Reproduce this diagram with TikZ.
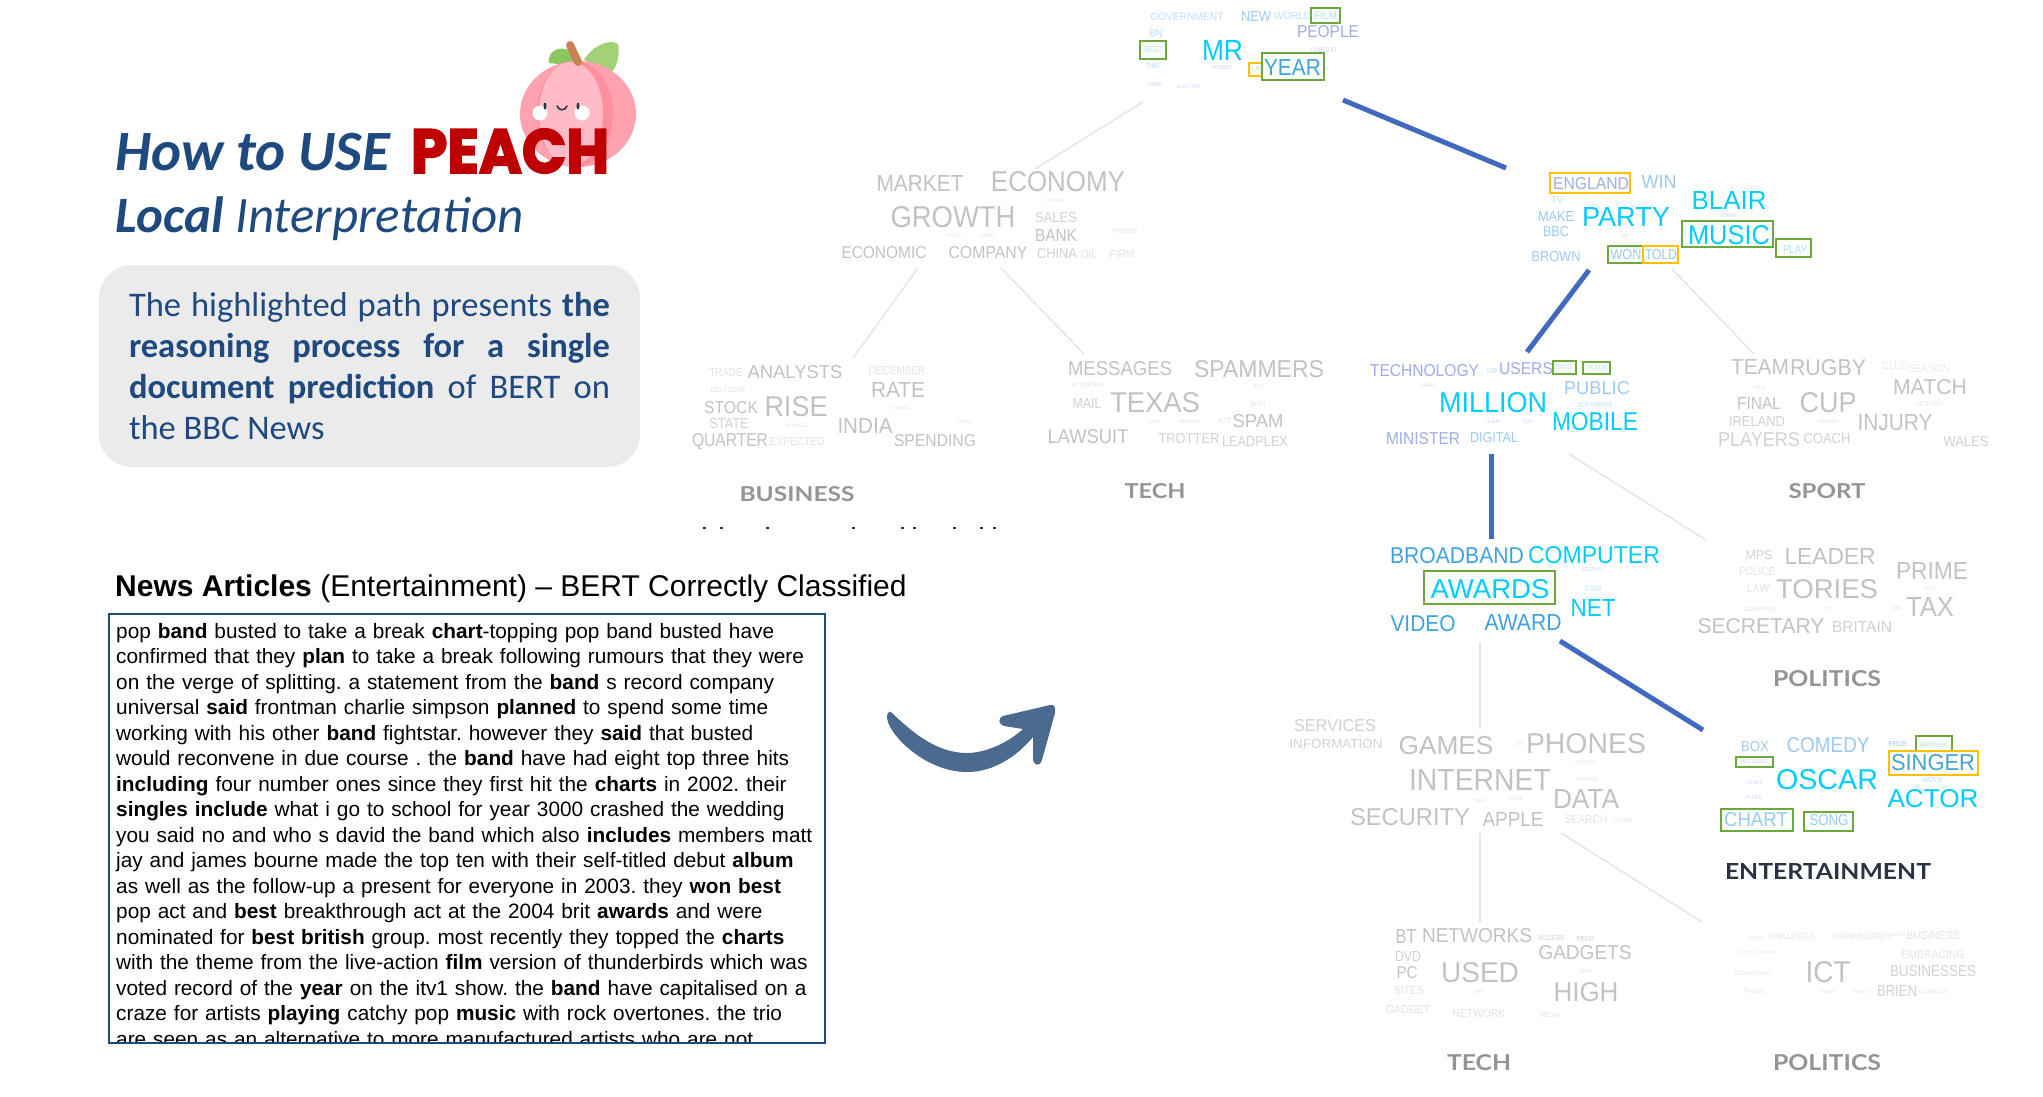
\documentclass[tikz,border=0pt]{standalone}
\usepackage{graphicx}
\usepackage{fontspec}
\setmainfont{Liberation Sans}
\newfontfamily\titlefont{Carlito}
\newfontfamily\peachfont{Poppins}[BoldFeatures={FakeBold=3}]
\newfontfamily\catfont{Lato}
\usetikzlibrary{positioning}
\frenchspacing

\definecolor{hotc}{HTML}{00CCFF}
\definecolor{deepc}{HTML}{3FA2E0}
\definecolor{duskc}{HTML}{3FA5D5}
\definecolor{softc}{HTML}{9CC9F3}
\definecolor{palec}{HTML}{BBE0FA}
\definecolor{lavc}{HTML}{A0ACE6}
\definecolor{mistc}{HTML}{CDD3F7}
\definecolor{navyc}{HTML}{1F4A7F}
\definecolor{linkc}{HTML}{4169BF}
\definecolor{swooshc}{HTML}{4A6A90}
\definecolor{greenc}{HTML}{6DA83F}
\definecolor{amberc}{HTML}{FFC000}
\definecolor{inkc}{HTML}{2A3342}
\definecolor{peachc}{HTML}{FFA2B0}
\definecolor{creasec}{HTML}{FF8E9E}
\definecolor{flushc}{HTML}{FFBCC6}
\definecolor{stemc}{HTML}{C98352}
\definecolor{leafc}{HTML}{8CC660}
\definecolor{leafbc}{HTML}{A3D178}
\newcommand{\wfit}[3]{\resizebox{#1pt}{#2pt}{#3}}

\begin{document}
\begin{tikzpicture}
	[x=1pt, y=-1pt, every node/.style={inner sep=0pt},
	hot/.style={text=hotc}, deep/.style={text=deepc}, dusk/.style={text=duskc}, soft/.style={text=softc},
	pale/.style={text=palec}, lav/.style={text=lavc}, mist/.style={text=mistc},
	gra/.style={text=black!24}, grb/.style={text=black!18}, grc/.style={text=black!11}, grd/.style={text=black!8},
	catg/.style={font=\catfont\bfseries, text=black!42},
	gbox/.style={draw=greenc, line width=2.4pt, fill=green!2},
	ybox/.style={draw=amberc, line width=2.4pt, fill=yellow!3},
	hotlink/.style={draw=linkc, line width=5pt},
	dimlink/.style={draw=black!10, line width=1.5pt},
	headline/.style={text=navyc}]
	\useasboundingbox (0,0) rectangle (2043,1096);

	% peach
	\fill[leafc] (549,63) .. controls (547,48) and (565,44) .. (574,54) -- (576,66) -- cycle;
	\fill[leafbc] (584,60) .. controls (592,46) and (610,38) .. (618,44) .. controls (620,54) and (618,64) .. (612,72) -- cycle;
	\fill[peachc] (578,114) ellipse (58 and 53);
	\fill[creasec] (575,114) ellipse (38 and 53);
	\fill[flushc] (571,114) ellipse (32 and 52);
	\draw[stemc, line width=8pt, line cap=round] (570,45) -- (578,62);
	\fill[white] (540,113) circle (7.5) (582,113) circle (7.5);
	\fill[inkc] (545,106) ellipse (1.5 and 3.5) (578,106) ellipse (1.5 and 3.5);
	\draw[inkc, line width=1.6pt, line cap=round] (557,106) .. controls (559,111) and (565,111) .. (567,106);

	\node (howto) [headline, anchor=base west, font=\titlefont\fontsize{57}{60}\selectfont\bfseries\itshape] at (115,170) {How to USE};
	\node (peachword) [text=red!75!black, font=\peachfont\bfseries] at (510,151) {\wfit{198}{44}{PEACH}};
	\node (local) [headline, anchor=base west, font=\titlefont\fontsize{51}{53}\selectfont\itshape] at (115,232) {\textbf{Local} Interpretation};
	\node (note) [fill=black!8, rounded corners=33pt, minimum height=202pt, inner xsep=30pt, text width=481pt, align=justify, text=navyc, font=\titlefont\fontsize{34.5}{41}\selectfont] at (369.5,366)
		{The highlighted path presents \textbf{the}\linebreak \textbf{reasoning process for a single}\linebreak \textbf{document prediction} of BERT on\linebreak the BBC News};

	\node (newshead) [anchor=base west, font=\fontsize{30}{31}\selectfont] at (115,596) {\textbf{News Articles} (Entertainment) -- BERT Correctly Classified};
	\begin{scope}
	\clip (109,614) rectangle (825,1043);
	\node (article) [anchor=north west, text width=705pt, align=left, font=\fontsize{20.8}{25.5}\selectfont] at (116,623)
		{pop \textbf{band} busted to take a break \textbf{chart}-topping pop band busted have\\
		confirmed that they \textbf{plan} to take a break following rumours that they were\\
		on the verge of splitting. a statement from the \textbf{band} s record company\\
		universal \textbf{said} frontman charlie simpson \textbf{planned} to spend some time\\
		working with his other \textbf{band} fightstar. however they \textbf{said} that busted\\
		would reconvene in due course . the \textbf{band} have had eight top three hits\\
		\textbf{including} four number ones since they first hit the \textbf{charts} in 2002. their\\
		\textbf{singles include} what i go to school for year 3000 crashed the wedding\\
		you said no and who s david the band which also \textbf{includes} members matt\\
		jay and james bourne made the top ten with their self-titled debut \textbf{album}\\
		as well as the follow-up a present for everyone in 2003. they \textbf{won best}\\
		pop act and \textbf{best} breakthrough act at the 2004 brit \textbf{awards} and were\\
		nominated for \textbf{best british} group. most recently they topped the \textbf{charts}\\
		with the theme from the live-action \textbf{film} version of thunderbirds which was\\
		voted record of the \textbf{year} on the itv1 show. the \textbf{band} have capitalised on a\\
		craze for artists \textbf{playing} catchy pop \textbf{music} with rock overtones. the trio\\
		are seen as an alternative to more manufactured artists who are not};
	\end{scope}
	\node (articlebox) [draw=navyc, line width=2pt, minimum width=716pt, minimum height=429pt] at (467,828.5) {};

	% arrow
	\fill[swooshc] (888,713) .. controls (880,725) and (920,772) .. (967,772)
		.. controls (995,772) and (1018,755) .. (1033,737)
		-- (1033,758) .. controls (1033,765) and (1039,768) .. (1042,760)
		-- (1055,713) .. controls (1056,707) and (1054,704) .. (1050,705)
		-- (1003,716) .. controls (998,718) and (998,724) .. (1004,726)
		-- (1023,729) .. controls (1008,743) and (985,753) .. (967,753)
		.. controls (935,753) and (910,730) .. (892,713) .. controls (891,711) and (889,711) .. (888,713) -- cycle;

	% remains of a cut off line
	\foreach \tx in {704,721,767,853,902,914,954,981,994}
		\fill[black!80] (\tx-1.5,526.5) rectangle (\tx+1.5,528.5);

	% links
	\coordinate (rootr) at (1343,100);
	\coordinate (polr) at (1506,168);
	\coordinate (poll) at (1589,270);
	\coordinate (secl) at (1527,352);
	\coordinate (secb) at (1491,454);
	\coordinate (awt) at (1491,539);
	\coordinate (awr) at (1560,641);
	\coordinate (entt) at (1703,730);
	\draw[hotlink] (rootr) -- (polr);
	\draw[hotlink] (poll) -- (secl);
	\draw[hotlink] (secb) -- (awt);
	\draw[hotlink] (awr) -- (entt);
	\coordinate (rootl) at (1143,102);
	\coordinate (ecot) at (1035,169);
	\coordinate (ecol) at (918,268);
	\coordinate (bizt) at (853,358);
	\coordinate (ecor) at (1001,268);
	\coordinate (techt) at (1084,354);
	\coordinate (polb) at (1672,269);
	\coordinate (spot) at (1754,354);
	\coordinate (secr) at (1569,454);
	\coordinate (govt) at (1706,540);
	\coordinate (awb) at (1480,642);
	\coordinate (gamt) at (1480,729);
	\coordinate (gamb) at (1480,833);
	\coordinate (gadt) at (1480,922);
	\coordinate (gamr) at (1561,833);
	\coordinate (ictt) at (1702,922);
	\draw[dimlink] (rootl) -- (ecot);
	\draw[dimlink] (ecol) -- (bizt);
	\draw[dimlink] (ecor) -- (techt);
	\draw[dimlink] (polb) -- (spot);
	\draw[dimlink] (secr) -- (govt);
	\draw[dimlink] (awb) -- (gamt);
	\draw[dimlink] (gamb) -- (gadt);
	\draw[dimlink] (gamr) -- (ictt);

	% boxes go under the words
	\node (filmbox) [gbox, minimum width=29pt, minimum height=15pt] at (1325.5,15.5) {};
	\node (bestbox) [gbox, minimum width=26pt, minimum height=18pt] at (1153,50) {};
	\node (ukbox) [ybox, minimum width=14pt, minimum height=13pt] at (1256,69.5) {};
	\node (yearbox) [gbox, minimum width=62pt, minimum height=27pt] at (1293,66.5) {};
	\node (englandbox) [ybox, minimum width=80pt, minimum height=20pt] at (1590,183) {};
	\node (musicbox) [gbox, minimum width=91pt, minimum height=26pt] at (1727.5,234) {};
	\node (playbox) [gbox, minimum width=35pt, minimum height=18pt] at (1793.5,248) {};
	\node (wonbox) [gbox, minimum width=35pt, minimum height=17pt] at (1625.5,254.5) {};
	\node (toldbox) [ybox, minimum width=35pt, minimum height=17pt] at (1660.5,254.5) {};
	\node (saysbox) [gbox, minimum width=23pt, minimum height=13pt] at (1564.5,367.5) {};
	\node (plansbox) [gbox, minimum width=27pt, minimum height=12pt] at (1596.5,368) {};
	\node (awardsbox) [gbox, minimum width=131pt, minimum height=33pt] at (1489.5,587.5) {};
	\node (britishbox) [gbox, minimum width=36pt, minimum height=22pt] at (1934,747) {};
	\node (includingbox) [gbox, minimum width=37pt, minimum height=10pt] at (1754.5,762) {};
	\node (singerbox) [ybox, minimum width=89pt, minimum height=24pt] at (1933.5,763) {};
	\node (chartbox) [gbox, minimum width=72pt, minimum height=22pt] at (1757,820) {};
	\node (songbox) [gbox, minimum width=49pt, minimum height=19pt] at (1828.5,821.5) {};

	% top cloud
	\node (tgovernment) [pale] at (1187,16.5) {\wfit{73}{7.5}{GOVERNMENT}};
	\node (tnew) [soft] at (1256,16) {\wfit{30}{10}{NEW}};
	\node (tworld) [pale] at (1292.5,15.7) {\wfit{37}{7.5}{WORLD}};
	\node (tfilm) [pale] at (1325.5,15.7) {\wfit{23}{7.5}{FILM}};
	\node (tpeople) [lav] at (1328,32) {\wfit{62}{12}{PEOPLE}};
	\node (tbn) [pale] at (1156,33) {\wfit{14}{8}{BN}};
	\node (tbest) [pale] at (1153.5,50) {\wfit{17}{6}{BEST}};
	\node (tmr) [hot] at (1222.5,50) {\wfit{41}{20}{MR}};
	\node (tlabour) [mist] at (1324,50.5) {\wfit{26}{5}{LABOUR}};
	\node (tyear) [dusk] at (1292.5,67) {\wfit{57}{16}{YEAR}};
	\node (tuk) [pale] at (1257,69.5) {\wfit{10}{5}{UK}};
	\node (ttime) [pale] at (1153.5,65.5) {\wfit{15}{5}{TIME}};
	\node (tnumber) [mist] at (1222,68) {\wfit{20}{4}{NUMBER}};
	\node (tgame) [mist] at (1155,85) {\wfit{14}{4}{GAME}};
	\node (telection) [mist] at (1188.5,86.5) {\wfit{23}{3.5}{ELECTION}};

	% economy cloud
	\node (emarket) [gra] at (920,183) {\wfit{87}{16}{MARKET}};
	\node (eeconomy) [gra] at (1058,182) {\wfit{134}{20}{ECONOMY}};
	\node (edollar) [grc] at (1055,201) {\wfit{19}{4}{DOLLAR}};
	\node (egrowth) [gra] at (953,217) {\wfit{125}{21}{GROWTH}};
	\node (esales) [grb] at (1056,218) {\wfit{42}{10}{SALES}};
	\node (ebank) [gra] at (1056,235) {\wfit{42}{12}{BANK}};
	\node (eprices) [grc] at (1125,231) {\wfit{25}{5}{PRICES}};
	\node (erates) [grc] at (954,236) {\wfit{15}{3.5}{RATES}};
	\node (eyukos) [grc] at (987,236) {\wfit{17}{3.5}{YUKOS}};
	\node (eeconomic) [gra] at (884,253) {\wfit{85}{12}{ECONOMIC}};
	\node (ecompany) [gra] at (988,253) {\wfit{79}{12}{COMPANY}};
	\node (echina) [grb] at (1057,254) {\wfit{40}{10}{CHINA}};
	\node (eoil) [grc] at (1089,255) {\wfit{16}{8}{OIL}};
	\node (efirm) [grc] at (1122,254) {\wfit{25}{8}{FIRM}};

	% business cloud
	\node (btrade) [grc] at (726,372) {\wfit{33}{8}{TRADE}};
	\node (banalysts) [gra] at (795,372.5) {\wfit{95}{13}{ANALYSTS}};
	\node (bdecember) [grc] at (897,371) {\wfit{57}{8}{DECEMBER}};
	\node (brate) [gra] at (898,390) {\wfit{54}{15}{RATE}};
	\node (bdeutsche) [grc] at (728,390) {\wfit{35}{5}{DEUTSCHE}};
	\node (bstock) [gra] at (731,408) {\wfit{54}{12}{STOCK}};
	\node (brise) [gra] at (796,407) {\wfit{63}{20}{RISE}};
	\node (bfigures) [grc] at (900,408) {\wfit{20}{3.5}{FIGURES}};
	\node (bstate) [grb] at (729,424) {\wfit{39}{10}{STATE}};
	\node (bbusiness) [grc] at (797,426) {\wfit{24}{3.5}{BUSINESS}};
	\node (bindia) [gra] at (865,426) {\wfit{55}{15}{INDIA}};
	\node (bfirms) [grc] at (965,422) {\wfit{15}{3.5}{FIRMS}};
	\node (bquarter) [gra] at (730,442) {\wfit{76}{13}{QUARTER}};
	\node (bexpected) [grc] at (797,442) {\wfit{55}{8}{EXPECTED}};
	\node (bspending) [gra] at (935,441) {\wfit{82}{12}{SPENDING}};
	\node (bizlabel) [catg] at (797,494) {\wfit{115}{15}{BUSINESS}};

	% spam cloud
	\node (smessages) [gra] at (1120,369) {\wfit{104}{14}{MESSAGES}};
	\node (sspammers) [gra] at (1259,369) {\wfit{130}{17}{SPAMMERS}};
	\node (sattorney) [grc] at (1088,385) {\wfit{34}{5}{ATTORNEY}};
	\node (sftc) [grc] at (1259,387) {\wfit{10}{4}{FTC}};
	\node (smail) [grb] at (1087,403) {\wfit{29}{10}{MAIL}};
	\node (stexas) [gra] at (1155,403) {\wfit{90}{20}{TEXAS}};
	\node (ssent) [grc] at (1258,404.5) {\wfit{17}{5}{SENT}};
	\node (smen) [grc] at (1155,421.5) {\wfit{11}{3.5}{MEN}};
	\node (ssending) [grc] at (1190,421.5) {\wfit{22}{3.5}{SENDING}};
	\node (sact) [grc] at (1224,421.5) {\wfit{13}{5}{ACT}};
	\node (sspam) [gra] at (1258,421.5) {\wfit{51}{13}{SPAM}};
	\node (slawsuit) [gra] at (1088,437) {\wfit{81}{14}{LAWSUIT}};
	\node (strotter) [grb] at (1189,439) {\wfit{61}{10}{TROTTER}};
	\node (sleadplex) [grb] at (1255,441) {\wfit{66}{10}{LEADPLEX}};
	\node (techlabel) [catg] at (1155,491) {\wfit{61}{15}{TECH}};

	% party cloud
	\node (pengland) [lav] at (1591,184) {\wfit{76}{12}{ENGLAND}};
	\node (pwin) [soft] at (1659,182) {\wfit{35}{13}{WIN}};
	\node (ptv) [pale] at (1557,200) {\wfit{12}{7}{TV}};
	\node (pmake) [soft] at (1556,216) {\wfit{36}{10}{MAKE}};
	\node (pparty) [hot] at (1626,217) {\wfit{88}{19}{PARTY}};
	\node (pblair) [hot] at (1729,200) {\wfit{75}{18}{BLAIR}};
	\node (pyears) [mist] at (1728,216) {\wfit{16}{4}{YEARS}};
	\node (pbbc) [soft] at (1556,232) {\wfit{26}{10}{BBC}};
	\node (pset) [mist] at (1626,236) {\wfit{9}{3}{SET}};
	\node (pmusic) [hot] at (1729,235) {\wfit{82}{19}{MUSIC}};
	\node (pplay) [pale] at (1795,249) {\wfit{24}{8}{PLAY}};
	\node (pbrown) [soft] at (1556,257) {\wfit{49}{10}{BROWN}};
	\node (pwon) [soft] at (1626,255) {\wfit{31}{10}{WON}};
	\node (ptold) [soft] at (1661,255) {\wfit{32}{10}{TOLD}};

	% users cloud
	\node (utechnology) [lav] at (1424.5,371) {\wfit{109}{12}{TECHNOLOGY}};
	\node (uuse) [pale] at (1492,371.5) {\wfit{11}{5}{USE}};
	\node (uusers) [lav] at (1526,369) {\wfit{54}{12}{USERS}};
	\node (usays) [pale] at (1564,367.5) {\wfit{16}{5}{SAYS}};
	\node (uplans) [pale] at (1597,368.5) {\wfit{20}{5}{PLANS}};
	\node (ulord) [mist] at (1428,385.5) {\wfit{12}{3.5}{LORD}};
	\node (upublic) [soft] at (1597,388) {\wfit{66}{13}{PUBLIC}};
	\node (umillion) [hot] at (1493,403) {\wfit{108}{20}{MILLION}};
	\node (usoftware) [pale] at (1595,405) {\wfit{36}{5}{SOFTWARE}};
	\node (uhome) [mist] at (1493,421.5) {\wfit{14}{3.5}{HOME}};
	\node (utory) [mist] at (1528,421.5) {\wfit{12}{3.5}{TORY}};
	\node (umobile) [hot] at (1595,422) {\wfit{86}{18}{MOBILE}};
	\node (uminister) [lav] at (1423,439) {\wfit{74}{12}{MINISTER}};
	\node (udigital) [soft] at (1494,438) {\wfit{48}{10}{DIGITAL}};

	% sport cloud
	\node (rteam) [gra] at (1760,367) {\wfit{58}{15}{TEAM}};
	\node (rrugby) [gra] at (1828,368) {\wfit{76}{16}{RUGBY}};
	\node (rclub) [grd] at (1895,366) {\wfit{26}{8}{CLUB}};
	\node (rseason) [grd] at (1929,369) {\wfit{42}{8}{SEASON}};
	\node (rmatch) [gra] at (1930,387) {\wfit{74}{15}{MATCH}};
	\node (rhalf) [grc] at (1760,387.5) {\wfit{12}{3.5}{HALF}};
	\node (rfinal) [gra] at (1759,403) {\wfit{44}{12}{FINAL}};
	\node (rcup) [gra] at (1828,403) {\wfit{57}{20}{CUP}};
	\node (rvictory) [grc] at (1929,404.5) {\wfit{27}{5}{VICTORY}};
	\node (rireland) [grb] at (1757,421) {\wfit{56}{10}{IRELAND}};
	\node (rchelsea) [grc] at (1827,421.5) {\wfit{21}{3.5}{CHELSEA}};
	\node (rinjury) [gra] at (1895,422.5) {\wfit{75}{16}{INJURY}};
	\node (rplayers) [grb] at (1759,440) {\wfit{82}{14}{PLAYERS}};
	\node (rcoach) [grb] at (1827,439) {\wfit{47}{10}{COACH}};
	\node (rwales) [grb] at (1966,442) {\wfit{45}{10}{WALES}};
	\node (sportlabel) [catg] at (1827,491) {\wfit{77}{15}{SPORT}};

	% award cloud
	\node (abroadband) [deep] at (1457,556) {\wfit{134}{16}{BROADBAND}};
	\node (acomputer) [hot] at (1594,555) {\wfit{132}{17}{COMPUTER}};
	\node (afestival) [mist] at (1593,570) {\wfit{21}{4}{FESTIVAL}};
	\node (aawards) [hot] at (1490,589) {\wfit{119}{19}{AWARDS}};
	\node (astar) [pale] at (1593,589.5) {\wfit{17}{5}{STAR}};
	\node (anet) [hot] at (1593,607.5) {\wfit{45}{17}{NET}};
	\node (avideo) [deep] at (1423,624) {\wfit{65}{16}{VIDEO}};
	\node (aaward) [deep] at (1523,622) {\wfit{77}{16}{AWARD}};

	% government cloud
	\node (gmps) [grb] at (1759,555) {\wfit{27}{9}{MPS}};
	\node (gleader) [gra] at (1830,556) {\wfit{91}{16}{LEADER}};
	\node (gprime) [gra] at (1932,571) {\wfit{72}{17}{PRIME}};
	\node (gpolice) [grc] at (1757,572) {\wfit{36}{8}{POLICE}};
	\node (gukip) [grc] at (1930,588.5) {\wfit{12}{3.5}{UKIP}};
	\node (glaw) [grc] at (1758,588) {\wfit{22}{8}{LAW}};
	\node (gtories) [gra] at (1827,589) {\wfit{102}{19}{TORIES}};
	\node (gcampaign) [grc] at (1760,609) {\wfit{33}{4.5}{CAMPAIGN}};
	\node (gsay) [grc] at (1827,608.5) {\wfit{9}{3}{SAY}};
	\node (glib) [grc] at (1896,608) {\wfit{10}{4}{LIB}};
	\node (gtax) [gra] at (1930,607) {\wfit{48}{19}{TAX}};
	\node (gsecretary) [gra] at (1761,626) {\wfit{127}{15}{SECRETARY}};
	\node (gbritain) [grb] at (1862,627) {\wfit{60}{11}{BRITAIN}};
	\node (govlabel) [catg] at (1827,679) {\wfit{108}{16}{POLITICS}};

	% phones cloud
	\node (hservices) [grb] at (1335,726) {\wfit{82}{12}{SERVICES}};
	\node (hinformation) [grb] at (1336,744) {\wfit{93}{9}{INFORMATION}};
	\node (hgames) [gra] at (1446,746) {\wfit{95}{18}{GAMES}};
	\node (hsite) [grc] at (1519,744) {\wfit{10}{4}{SITE}};
	\node (hphones) [gra] at (1586,744) {\wfit{120}{20}{PHONES}};
	\node (hcontent) [grc] at (1586,763) {\wfit{22}{4}{CONTENT}};
	\node (hinternet) [gra] at (1480,780) {\wfit{142}{21}{INTERNET}};
	\node (hmobiles) [grc] at (1587,780) {\wfit{21}{4}{MOBILES}};
	\node (hdata) [gra] at (1586,799) {\wfit{66}{19}{DATA}};
	\node (hweb) [grc] at (1480,801) {\wfit{11}{3.5}{WEB}};
	\node (hvirus) [grc] at (1515,799) {\wfit{15}{4}{VIRUS}};
	\node (hsecurity) [gra] at (1410,817) {\wfit{120}{17}{SECURITY}};
	\node (happle) [gra] at (1513,819) {\wfit{61}{14}{APPLE}};
	\node (hsearch) [grc] at (1586,820) {\wfit{43}{8}{SEARCH}};
	\node (husing) [grc] at (1623,820) {\wfit{20}{4.5}{USING}};

	% film cloud
	\node (fbox) [soft] at (1755,747) {\wfit{28}{10}{BOX}};
	\node (fcomedy) [soft] at (1828,745) {\wfit{83}{15}{COMEDY}};
	\node (fprize) [soft] at (1898,743.5) {\wfit{19}{5}{PRIZE}};
	\node (fbritish) [pale] at (1933,745) {\wfit{27}{5}{BRITISH}};
	\node (fincluding) [mist] at (1754,762) {\wfit{27}{4}{INCLUDING}};
	\node (fsinger) [dusk] at (1933,763) {\wfit{84}{16}{SINGER}};
	\node (foscar) [hot] at (1827,780) {\wfit{102}{20}{OSCAR}};
	\node (fmovie) [pale] at (1933,780.5) {\wfit{21}{5}{MOVIE}};
	\node (fstars) [mist] at (1755,782.5) {\wfit{16}{3.5}{STARS}};
	\node (foffice) [mist] at (1754,798) {\wfit{17}{4}{OFFICE}};
	\node (factor) [hot] at (1933,799) {\wfit{91}{18}{ACTOR}};
	\node (fchart) [soft] at (1756,820) {\wfit{64}{14}{CHART}};
	\node (fsong) [soft] at (1829,820.5) {\wfit{39}{11}{SONG}};
	\node (entlabel) [catg, text=inkc] at (1828,871) {\wfit{206}{16}{ENTERTAINMENT}};

	% networks cloud
	\node (nbt) [gra] at (1406,936) {\wfit{21}{14}{BT}};
	\node (nnetworks) [gra] at (1477,936) {\wfit{110}{14}{NETWORKS}};
	\node (naccess) [grb] at (1551,938.5) {\wfit{27}{5}{ACCESS}};
	\node (npeer) [grb] at (1585,938.5) {\wfit{17}{5}{PEER}};
	\node (ndvd) [grb] at (1408,956) {\wfit{26}{10}{DVD}};
	\node (ngadgets) [gra] at (1585,953) {\wfit{93}{14}{GADGETS}};
	\node (npc) [gra] at (1407,973) {\wfit{21}{12}{PC}};
	\node (nused) [gra] at (1480,973) {\wfit{78}{20}{USED}};
	\node (nspam) [grc] at (1586,972) {\wfit{13}{4}{SPAM}};
	\node (nsites) [grc] at (1409,991) {\wfit{30}{8}{SITES}};
	\node (nway) [grc] at (1479,991.5) {\wfit{10}{3.5}{WAY}};
	\node (nhigh) [gra] at (1586,992) {\wfit{65}{19}{HIGH}};
	\node (ngadget) [grc] at (1408,1010) {\wfit{44}{8}{GADGET}};
	\node (nnetwork) [grc] at (1479,1014) {\wfit{53}{8}{NETWORK}};
	\node (nmedia) [grc] at (1550,1014.5) {\wfit{21}{5}{MEDIA}};
	\node (netlabel) [catg] at (1479,1063) {\wfit{64}{16}{TECH}};

	% ict cloud
	\node (istudy) [grc] at (1756,939) {\wfit{16}{4}{STUDY}};
	\node (ichallenges) [grc] at (1792,937) {\wfit{45}{6}{CHALLENGES}};
	\node (icommunication) [grc] at (1863,937) {\wfit{59}{6}{COMMUNICATION}};
	\node (ibring) [grc] at (1899,935) {\wfit{13}{3.5}{BRING}};
	\node (ibusiness) [grc] at (1933,936) {\wfit{53}{8}{BUSINESS}};
	\node (iopportunities) [grd] at (1757,953) {\wfit{38}{4}{OPPORTUNITIES}};
	\node (iembracing) [grc] at (1933,955) {\wfit{63}{8}{EMBRACING}};
	\node (itechnologies) [grc] at (1753,974) {\wfit{38}{4}{TECHNOLOGIES}};
	\node (iict) [gra] at (1828,972) {\wfit{45}{21}{ICT}};
	\node (ibusinesses) [grb] at (1933,971) {\wfit{86}{11}{BUSINESSES}};
	\node (itrading) [grc] at (1755,992) {\wfit{21}{4}{TRADING}};
	\node (ifirms) [grc] at (1827,991.5) {\wfit{15}{3.5}{FIRMS}};
	\node (ireport) [grc] at (1862,991.5) {\wfit{19}{3.5}{REPORT}};
	\node (ibrien) [grb] at (1897,991) {\wfit{40}{11}{BRIEN}};
	\node (icommerce) [grc] at (1933,991.5) {\wfit{28}{3.5}{COMMERCE}};
	\node (ictlabel) [catg] at (1827,1063) {\wfit{108}{16}{POLITICS}};
\end{tikzpicture}
\end{document}
